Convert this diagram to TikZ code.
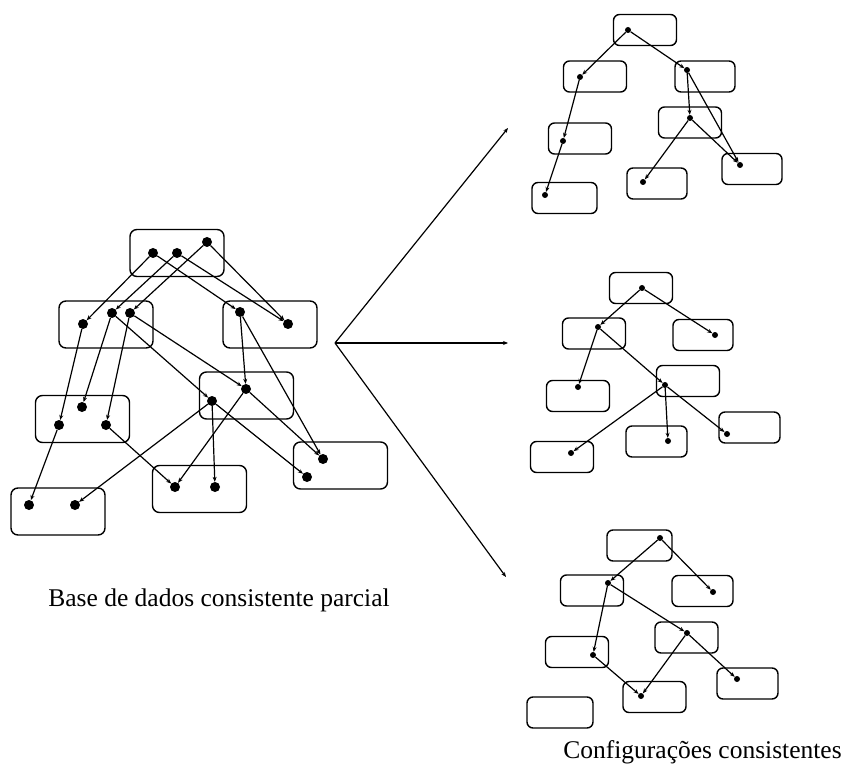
\documentclass[tikz,border=0pt]{standalone}
\usepackage{fontspec}
\setmainfont{Liberation Serif}
\usetikzlibrary{arrows.meta}
\begin{document}
\begin{tikzpicture}[x=1pt,y=-1pt,
  grp/.style={draw, rounded corners=7pt, line width=1.4pt, inner sep=0pt},
  lbox/.style={grp, minimum width=94pt, minimum height=47pt},
  sbox/.style={grp, rounded corners=6pt, minimum width=63pt, minimum height=31pt},
  bigdot/.style={circle, fill, inner sep=0pt, minimum size=10pt},
  smalldot/.style={circle, fill, inner sep=0pt, minimum size=6pt},
  link/.style={-{Stealth[length=5pt,width=4pt]}, line width=1.2pt},
  captext/.style={font=\fontsize{25.5}{30}\selectfont, anchor=base, inner sep=0pt}]
\useasboundingbox (0,0) rectangle (846,767);

% ---------- left: partial consistent database ----------
\node[lbox] (bA) at (177,253) {};
\node[lbox] (bB) at (106,324.5) {};
\node[lbox] (bC) at (270,324.5) {};
\node[lbox] (bM) at (246.5,395.5) {};
\node[lbox] (bD) at (82.5,419) {};
\node[lbox] (bF) at (340.5,465.5) {};
\node[lbox] (bG) at (199.5,489) {};
\node[lbox] (bE) at (58,511.5) {};

\node[bigdot] (a1) at (153,253) {};
\node[bigdot] (a2) at (177,253) {};
\node[bigdot] (a3) at (207,242) {};
\node[bigdot] (b1) at (83,324) {};
\node[bigdot] (b2) at (112,313) {};
\node[bigdot] (b3) at (130,313) {};
\node[bigdot] (c1) at (240,312) {};
\node[bigdot] (c2) at (288,324) {};
\node[bigdot] (m1) at (246,389) {};
\node[bigdot] (m2) at (212,401) {};
\node[bigdot] (d1) at (82,407) {};
\node[bigdot] (d2) at (59,425) {};
\node[bigdot] (d3) at (106,425) {};
\node[bigdot] (f1) at (323,459) {};
\node[bigdot] (f2) at (307,477) {};
\node[bigdot] (g1) at (175,487) {};
\node[bigdot] (g2) at (215,487) {};
\node[bigdot] (e1) at (29,505) {};
\node[bigdot] (e2) at (75,505) {};

\draw[link] (a1) -- (b1);
\draw[link] (a1) -- (c1);
\draw[link] (a2) -- (b2);
\draw[link] (a2) -- (c2);
\draw[link] (a3) -- (b3);
\draw[link] (a3) -- (c2);
\draw[link] (b1) -- (d2);
\draw[link] (b2) -- (d1);
\draw[link] (b2) -- (m2);
\draw[link] (b3) -- (d3);
\draw[link] (b3) -- (m1);
\draw[link] (c1) -- (m1);
\draw[link] (c1) -- (f1);
\draw[link] (m1) -- (f1);
\draw[link] (m1) -- (g1);
\draw[link] (m2) -- (g2);
\draw[link] (m2) -- (e2);
\draw[link] (m2) -- (f2);
\draw[link] (d2) -- (e1);
\draw[link] (d3) -- (g1);

\node[captext] (capL) at (219,606) {Base de dados consistente parcial};

% ---------- fork arrows ----------
\coordinate (fork) at (335,343);
\coordinate (toTop) at (508,128);
\coordinate (toMid) at (508,343);
\coordinate (toBot) at (506,577);
\draw[link] (fork) -- (toTop);
\draw[link] (fork) -- (toMid);
\draw[link] (fork) -- (toBot);

% ---------- right top configuration ----------
\node[sbox] (r1) at (645,30) {};
\node[sbox] (r2) at (595,76.5) {};
\node[sbox, minimum width=60pt] (r3) at (705,76.5) {};
\node[sbox] (r4) at (690,122.5) {};
\node[sbox] (r5) at (580,138.5) {};
\node[sbox, minimum width=60pt] (r6) at (657,183.5) {};
\node[sbox, minimum width=60pt] (r7) at (752,169) {};
\node[sbox, minimum width=65pt] (r8) at (564.5,198) {};

\node[smalldot] (p1) at (628,30) {};
\node[smalldot] (p2) at (580,77) {};
\node[smalldot] (p3) at (687,70) {};
\node[smalldot] (p4) at (690,118) {};
\node[smalldot] (p5) at (563,141) {};
\node[smalldot] (p6) at (643,182) {};
\node[smalldot] (p7) at (740,165) {};
\node[smalldot] (p8) at (545,195) {};

\draw[link] (p1) -- (p2);
\draw[link] (p1) -- (p3);
\draw[link] (p2) -- (p5);
\draw[link] (p5) -- (p8);
\draw[link] (p3) -- (p4);
\draw[link] (p3) -- (p7);
\draw[link] (p4) -- (p6);
\draw[link] (p4) -- (p7);

% ---------- right middle configuration ----------
\node[sbox] (s1) at (641,288) {};
\node[sbox] (s2) at (594,333.5) {};
\node[sbox, minimum width=60pt] (s3) at (703,335) {};
\node[sbox] (s4) at (688,381) {};
\node[sbox] (s5) at (578,396) {};
\node[sbox, minimum width=61pt] (s6) at (656.5,441.5) {};
\node[sbox, minimum width=61pt] (s7) at (749.5,427.5) {};
\node[sbox] (s8) at (562,457) {};

\node[smalldot] (q1) at (642,288) {};
\node[smalldot] (q2) at (598,327) {};
\node[smalldot] (q3) at (715,335) {};
\node[smalldot] (q4) at (665,385) {};
\node[smalldot] (q5) at (578,387) {};
\node[smalldot] (q6) at (668,441) {};
\node[smalldot] (q7) at (727,434) {};
\node[smalldot] (q8) at (571,453) {};

\draw[link] (q1) -- (q2);
\draw[link] (q1) -- (q3);
\draw[link] (q2) -- (q5);
\draw[link] (q2) -- (q4);
\draw[link] (q4) -- (q8);
\draw[link] (q4) -- (q6);
\draw[link] (q4) -- (q7);

% ---------- right bottom configuration ----------
\node[sbox, minimum width=65pt] (t1) at (639.5,545.5) {};
\node[sbox] (t2) at (592,590.5) {};
\node[sbox, minimum width=61pt] (t3) at (702.5,591) {};
\node[sbox] (t4) at (686.5,637.5) {};
\node[sbox] (t5) at (577,652) {};
\node[sbox, minimum width=61pt] (t6) at (747.5,683.5) {};
\node[sbox] (t7) at (654.5,697) {};
\node[sbox, minimum width=66pt] (t8) at (560,712.5) {};

\node[smalldot] (u1) at (660,538) {};
\node[smalldot] (u2) at (608,583) {};
\node[smalldot] (u3) at (713,592) {};
\node[smalldot] (u4) at (687,633) {};
\node[smalldot] (u5) at (593,655) {};
\node[smalldot] (u6) at (737,679) {};
\node[smalldot] (u7) at (641,696) {};

\draw[link] (u1) -- (u2);
\draw[link] (u1) -- (u3);
\draw[link] (u2) -- (u5);
\draw[link] (u2) -- (u4);
\draw[link] (u4) -- (u6);
\draw[link] (u5) -- (u7);
\draw[link] (u4) -- (u7);

\node[captext] (capR) at (702.5,758) {Configurações consistentes};
\end{tikzpicture}
\end{document}
